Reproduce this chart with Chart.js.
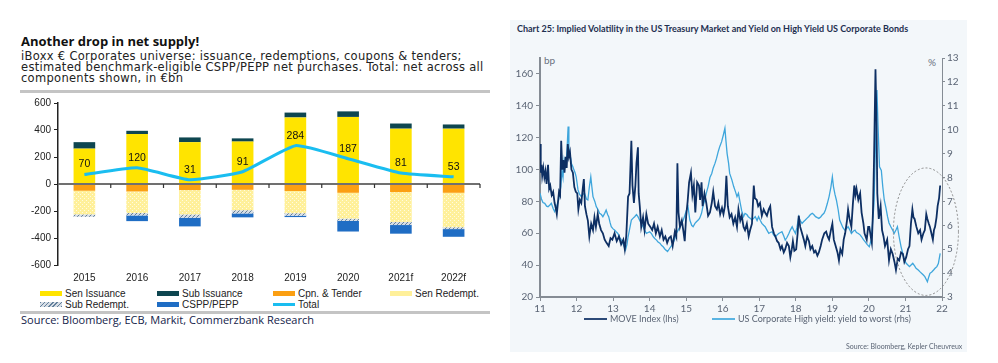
<!DOCTYPE html>
<html>
<head>
<meta charset="utf-8">
<script src="https://cdn.jsdelivr.net/npm/chart.js@4.4.1/dist/chart.umd.min.js"></script>
<style>
  body { margin: 0; background: #fff; width: 998px; height: 363px; position: relative; overflow: hidden; }
  .abs { position: absolute; white-space: nowrap; }
  #leftTitle { left: 21px; top: 32px; font: bold 13px "Open Sans", sans-serif; color: #111; }
  #leftSub { left: 21px; top: 51px; font: 11.5px/11px "DejaVu Sans", sans-serif; letter-spacing: 0.3px; color: #222; }
  .rule { position: absolute; left: 20px; width: 470px; height: 3px; background: #c4c4c4; }
  #leftSource { left: 21px; top: 312px; font: 11px "Open Sans", sans-serif; color: #13234a; }
  .leg { position: absolute; font: 10px "Liberation Sans", Arial, sans-serif; color: #222; height: 11px; line-height: 11px; }
  .leg i { position: absolute; left: -25px; top: 3px; width: 22px; height: 5px; }
  #panel { left: 510px; top: 20px; width: 457px; height: 332px; background: #f3f7fa; }
  #rightTitle { left: 517px; top: 23px; font: bold 9px Lato, sans-serif; color: #1f3050; }
  .rlab { font: 10px Lato, sans-serif; color: #6a7280; }
  .rleg { position: absolute; font: 9px Lato, sans-serif; color: #5a6474; height: 10px; line-height: 10px; }
  .rleg i { position: absolute; left: -26px; top: 4px; width: 23px; height: 2px; }
  #rightSource { left: 846px; top: 342px; font: 7px Lato, sans-serif; color: #5a6474; }
</style>
</head>
<body>
<div id="leftTitle" class="abs">Another drop in net supply!</div>
<div id="leftSub" class="abs">iBoxx € Corporates universe: issuance, redemptions, coupons &amp; tenders;<br>estimated benchmark-eligible CSPP/PEPP net purchases. Total: net across all<br>components shown, in €bn</div>
<div class="rule" style="top:90px"></div>
<div class="abs" style="left:20px;top:94px;width:470px;height:192px"><canvas id="leftChart"></canvas></div>
<div id="leftLegend"></div>
<div class="rule" style="top:311px"></div>
<div id="leftSource" class="abs">Source: Bloomberg, ECB, Markit, Commerzbank Research</div>

<div id="panel" class="abs"></div>
<div id="rightTitle" class="abs">Chart 25: Implied Volatility in the US Treasury Market and Yield on High Yield US Corporate Bonds</div>
<div class="abs rlab" style="left:544px;top:54px">bp</div>
<div class="abs rlab" style="left:928px;top:56px">%</div>
<div class="abs" style="left:510px;top:45px;width:457px;height:275px"><canvas id="rightChart"></canvas></div>
<div class="rleg" style="left:610px;top:314px"><i style="background:#2c4a78"></i>MOVE Index (lhs)</div>
<div class="rleg" style="left:738px;top:314px"><i style="background:#5ab4e2"></i>US Corporate High yield: yield to worst (rhs)</div>
<div id="rightSource" class="abs">Source: Bloomberg, Kepler Cheuvreux</div>

<script>
// ---- left chart: iBoxx EUR corporates net supply, EUR bn
var years = ['2015', '2016', '2017', '2018', '2019', '2020', '2021f', '2022f'];
var senIssuance = [262, 370, 310, 314, 493, 497, 410, 410];
var subIssuance = [48, 24, 35, 24, 36, 41, 38, 31];
var cpnTender = [-50, -55, -45, -43, -52, -65, -60, -65];
var senRedempt = [-175, -160, -180, -151, -164, -191, -220, -255];
var subRedempt = [-18, -18, -25, -24, -19, -17, -24, -14];
var csppPepp = [0, -42, -64, -29, -10, -79, -64, -57];
var total = [70, 120, 31, 91, 284, 187, 81, 53];
var leftTicks = [-600, -400, -200, 0, 200, 400, 600];

// ---- right chart: MOVE index (bp, lhs) and US HY yield to worst (%, rhs); x = year (11 = 2011)
var moveIndex = [
  [11.00,116],[11.02,98],[11.04,103],[11.06,96],[11.09,101],[11.12,95],[11.15,99],[11.18,91],[11.22,103],[11.25,88],
  [11.28,90],[11.32,84],[11.36,86],[11.40,79],[11.43,76],[11.46,72],[11.49,79],[11.52,86],[11.55,84],[11.58,118],
  [11.61,100],[11.64,106],[11.67,98],[11.70,108],[11.73,101],[11.76,116],[11.79,108],[11.82,111],[11.86,100],[11.90,98],
  [11.94,89],[11.98,86],[12.02,85],[12.05,75],[12.09,81],[12.13,79],[12.17,88],[12.20,94],[12.23,77],[12.27,72],
  [12.31,68],[12.35,58],[12.40,66],[12.45,62],[12.49,70],[12.53,64],[12.58,72],[12.62,66],[12.67,62],[12.72,60],
  [12.77,56],[12.82,54],[12.88,52],[12.93,57],[12.98,56],[13.04,60],[13.10,55],[13.16,58],[13.22,53],[13.28,56],
  [13.32,50],[13.36,58],[13.41,83],[13.45,85],[13.50,118],[13.53,90],[13.57,79],[13.61,90],[13.64,104],[13.68,114],
  [13.70,85],[13.73,77],[13.77,64],[13.82,70],[13.86,62],[13.91,72],[13.96,66],[14.02,64],[14.07,62],[14.12,66],
  [14.17,60],[14.22,64],[14.28,58],[14.33,62],[14.38,56],[14.43,58],[14.48,54],[14.53,57],[14.58,58],[14.63,52],
  [14.69,61],[14.73,58],[14.76,104],[14.79,73],[14.83,64],[14.88,68],[14.92,62],[14.96,55],[15.00,71],[15.04,80],
  [15.08,92],[15.13,98],[15.17,84],[15.21,90],[15.25,73],[15.30,92],[15.35,90],[15.38,81],[15.42,92],[15.45,77],
  [15.50,85],[15.55,79],[15.60,71],[15.65,73],[15.70,79],[15.74,86],[15.79,77],[15.84,75],[15.88,79],[15.93,72],
  [15.98,76],[16.02,72],[16.06,77],[16.10,96],[16.14,77],[16.19,70],[16.24,72],[16.29,66],[16.34,70],[16.39,64],
  [16.43,75],[16.48,68],[16.52,71],[16.57,64],[16.61,62],[16.66,66],[16.71,58],[16.75,62],[16.80,66],[16.85,90],
  [16.88,82],[16.93,81],[16.97,77],[17.02,79],[17.07,71],[17.12,75],[17.16,73],[17.21,71],[17.26,75],[17.30,77],
  [17.35,64],[17.40,60],[17.44,58],[17.49,55],[17.53,54],[17.58,50],[17.62,52],[17.67,48],[17.71,50],[17.76,54],
  [17.81,52],[17.85,45],[17.89,50],[17.92,55],[17.96,49],[18.01,50],[18.05,60],[18.08,71],[18.12,64],[18.17,60],
  [18.22,56],[18.26,52],[18.31,58],[18.36,55],[18.40,50],[18.45,52],[18.50,48],[18.54,49],[18.59,46],[18.63,48],
  [18.68,52],[18.72,56],[18.78,60],[18.83,61],[18.87,58],[18.91,56],[18.96,62],[19.00,66],[19.04,56],[19.09,52],
  [19.14,48],[19.18,43],[19.22,50],[19.27,47],[19.31,56],[19.35,60],[19.40,68],[19.43,75],[19.47,69],[19.52,64],
  [19.56,78],[19.60,90],[19.63,84],[19.66,88],[19.71,81],[19.76,85],[19.80,73],[19.85,66],[19.88,60],[19.94,56],
  [19.98,64],[20.01,64],[20.05,58],[20.08,54],[20.11,73],[20.14,106],[20.18,163],[20.21,127],[20.23,85],[20.27,69],
  [20.32,77],[20.36,62],[20.40,58],[20.44,52],[20.50,56],[20.55,43],[20.60,50],[20.65,47],[20.70,42],[20.74,37],
  [20.79,44],[20.83,43],[20.88,48],[20.93,47],[20.97,42],[21.02,45],[21.07,50],[21.11,52],[21.15,66],[21.19,75],
  [21.22,70],[21.25,69],[21.30,64],[21.35,60],[21.40,62],[21.44,56],[21.49,60],[21.53,62],[21.57,72],[21.60,69],
  [21.64,66],[21.67,64],[21.71,60],[21.75,56],[21.78,62],[21.81,64],[21.85,70],[21.88,77],[21.92,82],[21.95,90]
];
var hyYield = [
  [11.00,7.34],[11.04,7.10],[11.08,6.95],[11.13,6.92],[11.18,6.80],[11.22,6.78],[11.27,6.85],[11.31,6.92],[11.36,6.70],[11.40,6.57],
  [11.45,6.78],[11.51,7.06],[11.57,7.62],[11.60,8.31],[11.63,8.00],[11.66,8.73],[11.69,8.45],[11.72,8.59],[11.75,9.50],[11.77,10.13],
  [11.79,9.30],[11.81,9.00],[11.84,8.80],[11.86,8.59],[11.90,8.45],[11.93,8.31],[11.96,8.20],[11.99,8.03],[12.04,7.48],[12.08,7.30],
  [12.13,7.20],[12.18,7.30],[12.22,7.34],[12.27,7.10],[12.31,7.06],[12.35,7.60],[12.39,8.03],[12.42,7.60],[12.45,7.20],[12.50,7.00],
  [12.54,6.78],[12.59,6.65],[12.63,6.50],[12.68,6.45],[12.72,6.36],[12.77,6.50],[12.81,6.64],[12.85,6.45],[12.88,6.36],[12.92,6.10],
  [12.95,5.94],[13.00,5.85],[13.04,5.80],[13.09,5.72],[13.13,5.66],[13.18,5.50],[13.23,5.38],[13.28,5.20],[13.34,4.97],[13.38,5.20],
  [13.41,5.52],[13.46,5.90],[13.50,6.22],[13.55,6.30],[13.59,6.36],[13.64,6.45],[13.68,6.36],[13.73,6.20],[13.77,6.08],[13.82,5.94],
  [13.86,5.80],[13.91,5.66],[13.96,5.70],[14.00,5.73],[14.05,5.65],[14.10,5.52],[14.14,5.45],[14.19,5.38],[14.23,5.30],[14.28,5.25],
  [14.33,5.15],[14.37,5.10],[14.42,5.00],[14.49,4.90],[14.55,5.04],[14.60,5.15],[14.64,5.25],[14.69,5.45],[14.73,5.66],[14.78,5.80],
  [14.83,5.94],[14.87,6.05],[14.92,6.22],[14.96,6.40],[15.01,6.64],[15.05,6.78],[15.10,6.22],[15.15,6.00],[15.19,5.94],[15.24,6.08],
  [15.28,6.15],[15.33,6.22],[15.37,6.30],[15.42,6.50],[15.46,6.80],[15.51,7.06],[15.56,7.40],[15.60,7.62],[15.65,8.00],[15.70,8.17],
  [15.74,8.40],[15.79,8.60],[15.83,8.80],[15.88,9.10],[15.92,9.30],[15.97,9.50],[16.02,9.80],[16.06,10.06],[16.09,9.50],[16.12,9.00],
  [16.16,8.60],[16.19,8.17],[16.25,7.90],[16.30,7.62],[16.35,7.40],[16.39,7.20],[16.43,7.34],[16.48,6.92],[16.52,6.60],[16.57,6.36],
  [16.61,6.50],[16.66,6.45],[16.70,6.36],[16.75,6.30],[16.80,6.22],[16.85,6.30],[16.89,6.36],[16.94,6.20],[16.98,6.36],[17.03,6.20],
  [17.07,6.08],[17.12,6.00],[17.16,5.94],[17.21,5.80],[17.26,5.66],[17.30,5.70],[17.35,5.73],[17.39,5.60],[17.44,5.52],[17.49,5.60],
  [17.53,5.66],[17.58,5.70],[17.62,5.73],[17.67,5.55],[17.71,5.38],[17.76,5.50],[17.81,5.66],[17.85,5.80],[17.90,5.94],[17.94,5.80],
  [17.99,5.66],[18.03,5.90],[18.08,6.36],[18.12,6.20],[18.17,6.08],[18.21,6.15],[18.26,6.22],[18.31,6.30],[18.35,6.36],[18.40,6.45],
  [18.45,6.50],[18.49,6.45],[18.54,6.36],[18.59,6.32],[18.63,6.29],[18.68,6.35],[18.72,6.43],[18.77,6.50],[18.81,6.64],[18.86,6.90],
  [18.91,7.20],[18.96,7.60],[19.00,8.03],[19.03,7.62],[19.07,7.30],[19.11,7.06],[19.16,6.64],[19.20,6.22],[19.24,6.08],[19.29,5.90],
  [19.34,5.80],[19.38,5.85],[19.43,5.94],[19.48,5.80],[19.52,5.66],[19.57,5.75],[19.62,5.80],[19.66,5.70],[19.71,5.66],[19.76,5.60],
  [19.80,5.52],[19.85,5.40],[19.90,5.31],[19.95,5.20],[20.01,5.10],[20.06,5.38],[20.10,6.10],[20.14,6.92],[20.18,9.43],[20.22,11.66],
  [20.25,10.13],[20.29,8.45],[20.34,8.30],[20.38,7.60],[20.42,7.06],[20.47,6.70],[20.51,6.36],[20.55,6.10],[20.60,5.94],[20.65,5.80],
  [20.69,5.66],[20.74,5.80],[20.78,5.94],[20.83,5.50],[20.88,5.10],[20.93,4.80],[20.97,4.55],[21.02,4.41],[21.06,4.35],[21.11,4.27],
  [21.16,4.35],[21.20,4.41],[21.25,4.30],[21.29,4.20],[21.35,4.13],[21.40,4.05],[21.44,3.99],[21.49,3.92],[21.53,3.85],[21.58,3.70],
  [21.60,3.64],[21.64,3.85],[21.67,3.99],[21.72,4.05],[21.77,4.13],[21.81,4.20],[21.86,4.27],[21.90,4.40],[21.95,4.83]
];
// dashed highlight ellipse around the recent divergence, in data units (x = year, y = bp)
var highlightBox = { x0: 20.67, x1: 22.45, y0: 21, y1: 101 };

Chart.defaults.animation = false;
Chart.defaults.font.family = '"Liberation Sans", Arial, sans-serif';

function makePattern(bg, fg, kind) {
  var c = document.createElement('canvas');
  c.width = 4; c.height = 4;
  var g = c.getContext('2d');
  g.fillStyle = bg;
  g.fillRect(0, 0, 4, 4);
  g.fillStyle = fg;
  if (kind === 'dots') {
    g.fillRect(0, 0, 1, 1);
    g.fillRect(2, 2, 1, 1);
  } else {
    for (var i = 0; i < 4; i++) g.fillRect(i, 3 - i, 1, 1);
  }
  return g.createPattern(c, 'repeat');
}

var colors = {
  senIss: '#ffe400',
  subIss: '#0e4650',
  cpn: '#fb9f12',
  senRed: makePattern('#fff09a', '#fffbe0', 'dots'),
  subRed: makePattern('#d6dde5', '#62809c', 'hatch'),
  cspp: '#1f6dc4',
  total: '#1abdf0'
};

// legend for the left chart (4 columns, like the original)
var legendItems = [
  ['Sen Issuance', 'background:#ffe400', 65, 288],
  ['Sub Issuance', 'background:#0e4650', 182, 288],
  ['Cpn. & Tender', 'background:#fb9f12', 298, 288],
  ['Sen Redempt.', 'background:#fff09a', 415, 288],
  ['Sub Redempt.', 'background:repeating-linear-gradient(135deg,#62809c 0 1px,#d6dde5 1px 3px)', 65, 299],
  ['CSPP/PEPP', 'background:#1f6dc4', 182, 299],
  ['Total', 'background:#1abdf0;height:3px;top:4px', 298, 299]
];
var legHtml = '';
legendItems.forEach(function(it) {
  legHtml += '<div class="leg" style="left:' + it[2] + 'px;top:' + it[3] + 'px"><i style="' + it[1] + '"></i>' + it[0] + '</div>';
});
document.getElementById('leftLegend').innerHTML = legHtml;

var leftExtras = {
  id: 'leftExtras',
  afterDatasetsDraw: function(chart) {
    var ctx = chart.ctx, area = chart.chartArea;
    var x = chart.scales.x, y = chart.scales.y;
    var y0 = y.getPixelForValue(0);
    ctx.save();
    ctx.strokeStyle = '#707070';
    ctx.lineWidth = 2;
    ctx.beginPath();
    ctx.moveTo(area.left, y0);
    ctx.lineTo(area.right, y0);
    ctx.stroke();
    ctx.strokeStyle = '#333';
    ctx.lineWidth = 1.2;
    ctx.beginPath();
    for (var i = 1; i <= years.length; i++) {
      var px = i < years.length ? (x.getPixelForValue(i - 1) + x.getPixelForValue(i)) / 2 : area.right;
      ctx.moveTo(px, y0);
      ctx.lineTo(px, y0 + 4);
    }
    ctx.stroke();
    // labels above the total line
    var meta = chart.getDatasetMeta(6);
    ctx.fillStyle = '#111';
    ctx.font = '10.5px "Liberation Sans", Arial, sans-serif';
    ctx.textAlign = 'center';
    ctx.textBaseline = 'middle';
    meta.data.forEach(function(pt, i) {
      ctx.fillText(String(total[i]), pt.x, pt.y - 10);
    });
    ctx.restore();
  }
};

new Chart(document.getElementById('leftChart'), {
  type: 'bar',
  data: {
    labels: years,
    datasets: [
      { label: 'Sen Issuance', data: senIssuance, backgroundColor: colors.senIss, order: 1 },
      { label: 'Sub Issuance', data: subIssuance, backgroundColor: colors.subIss, order: 1 },
      { label: 'Cpn. & Tender', data: cpnTender, backgroundColor: colors.cpn, order: 1 },
      { label: 'Sen Redempt.', data: senRedempt, backgroundColor: colors.senRed, order: 1 },
      { label: 'Sub Redempt.', data: subRedempt, backgroundColor: colors.subRed, order: 1 },
      { label: 'CSPP/PEPP', data: csppPepp, backgroundColor: colors.cspp, order: 1 },
      { label: 'Total', type: 'line', data: total, stack: 'total', borderColor: colors.total, borderWidth: 3,
        pointRadius: 0, tension: 0.15, order: 0 }
    ]
  },
  options: {
    responsive: true,
    maintainAspectRatio: false,
    layout: { padding: { top: 6, right: 10 } },
    plugins: { legend: { display: false }, tooltip: { enabled: false } },
    datasets: { bar: { barPercentage: 0.41, categoryPercentage: 1 } },
    scales: {
      x: {
        stacked: true,
        grid: { display: false, drawTicks: false },
        border: { display: false },
        ticks: { color: '#222', font: { size: 10 }, padding: 7 },
        afterFit: function(s) { s.height = 21; }
      },
      y: {
        stacked: true,
        min: -600, max: 600,
        afterBuildTicks: function(s) { s.ticks = leftTicks.map(function(v) { return { value: v }; }); },
        grid: { drawOnChartArea: false, tickLength: 4, color: '#222' },
        border: { color: '#222', width: 1.5 },
        ticks: { color: '#222', font: { size: 10 }, padding: 3 },
        afterFit: function(s) { s.width = 38; }
      }
    }
  },
  plugins: [leftExtras]
});

var ellipsePlugin = {
  id: 'ellipse',
  afterDatasetsDraw: function(chart) {
    var ctx = chart.ctx, x = chart.scales.x, y = chart.scales.y;
    var l = x.getPixelForValue(highlightBox.x0), r = x.getPixelForValue(highlightBox.x1);
    var t = y.getPixelForValue(highlightBox.y1), b = y.getPixelForValue(highlightBox.y0);
    ctx.save();
    ctx.strokeStyle = '#8a8a8a';
    ctx.lineWidth = 1;
    ctx.setLineDash([2, 2]);
    ctx.beginPath();
    ctx.ellipse((l + r) / 2, (t + b) / 2, (r - l) / 2, (b - t) / 2, 0, 0, Math.PI * 2);
    ctx.stroke();
    ctx.restore();
  }
};

function toPoints(arr) { return arr.map(function(p) { return { x: p[0], y: p[1] }; }); }

var axisGray = '#858c94';
new Chart(document.getElementById('rightChart'), {
  type: 'line',
  data: {
    datasets: [
      { label: 'MOVE Index (lhs)', data: toPoints(moveIndex), yAxisID: 'y', borderColor: '#0d2f63', borderWidth: 1.8, pointRadius: 0, tension: 0 },
      { label: 'US Corporate High yield: yield to worst (rhs)', data: toPoints(hyYield), yAxisID: 'y1', borderColor: '#3ea6dc', borderWidth: 1.3, pointRadius: 0, tension: 0 }
    ]
  },
  options: {
    responsive: true,
    maintainAspectRatio: false,
    layout: { padding: { top: 13 } },
    plugins: { legend: { display: false }, tooltip: { enabled: false } },
    scales: {
      x: {
        type: 'linear', min: 11, max: 22,
        ticks: { stepSize: 1, color: '#5a6474', font: { family: 'Lato', size: 10 }, padding: 2 },
        grid: { drawOnChartArea: false, tickLength: 4, color: axisGray },
        border: { color: axisGray, width: 2 },
        afterFit: function(s) { s.height = 23; }
      },
      y: {
        position: 'left', min: 20, max: 170,
        ticks: { stepSize: 20, color: '#5a6474', font: { family: 'Lato', size: 10 }, padding: 3 },
        afterBuildTicks: function(s) { s.ticks = s.ticks.filter(function(t) { return t.value <= 160; }); },
        grid: { drawOnChartArea: false, tickLength: 4, color: axisGray },
        border: { color: axisGray, width: 2 },
        afterFit: function(s) { s.width = 30; }
      },
      y1: {
        position: 'right', min: 3, max: 13,
        ticks: { stepSize: 1, color: '#5a6474', font: { family: 'Lato', size: 10 }, padding: 2 },
        grid: { drawOnChartArea: false, tickLength: 3, color: axisGray },
        border: { color: axisGray, width: 1 },
        afterFit: function(s) { s.width = 25; }
      }
    }
  },
  plugins: [ellipsePlugin]
});
</script>
</body>
</html>
